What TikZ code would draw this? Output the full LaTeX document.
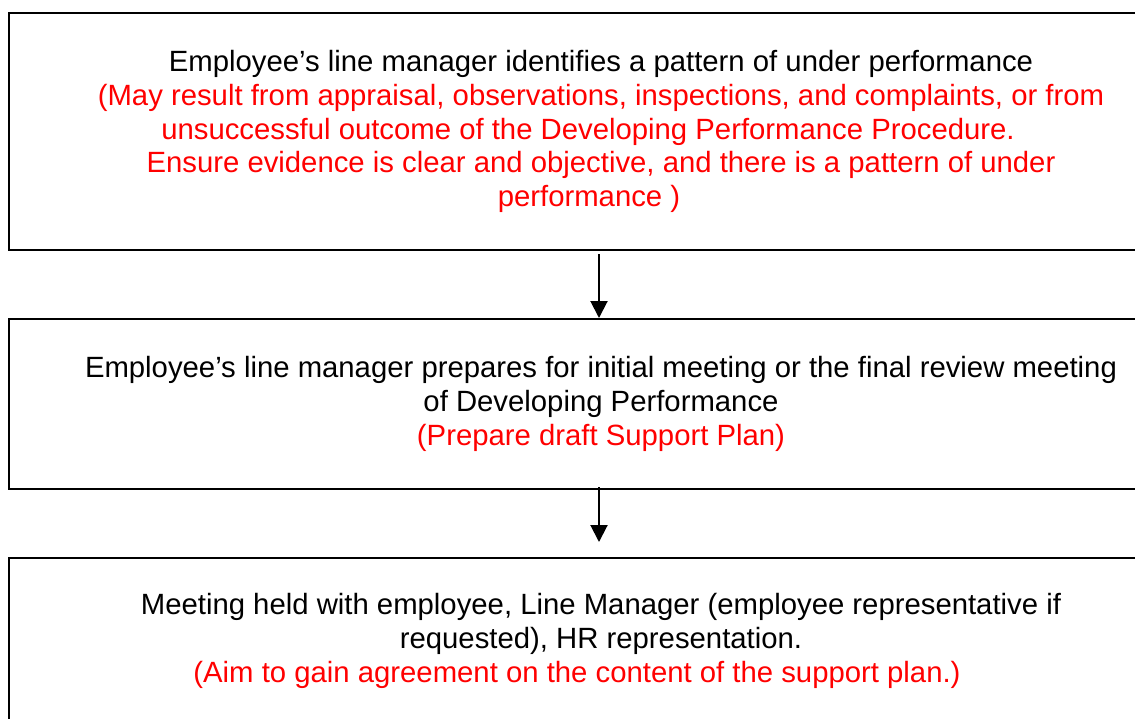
\documentclass[tikz,border=0pt]{standalone}
\usepackage{fontspec}
\setmainfont{Liberation Sans}
\usetikzlibrary{arrows.meta}
\definecolor{note}{RGB}{255,0,0}
\begin{document}
\begin{tikzpicture}[x=1pt,y=1pt,
  stagebox/.style={draw=black, line width=2pt, align=center, inner sep=0pt,
    minimum width=1184pt, font=\fontsize{29.3}{33.8}\selectfont},
  flow/.style={draw=black, line width=2pt, -{Triangle[length=17pt,width=17pt]}}]
\useasboundingbox (0,0) rectangle (1135,-718);
\clip (0,0) rectangle (1135,-718);
% stage 1
\node[stagebox, minimum height=237pt, anchor=north west] (b1) at (8,-12)
  {Employee’s line manager identifies a pattern of under performance\\
   \textcolor{note}{(May result from appraisal, observations, inspections, and complaints, or from}\\
   \textcolor{note}{unsuccessful outcome of the Developing Performance Procedure.\hspace*{26pt}}\\
   \textcolor{note}{Ensure evidence is clear and objective, and there is a pattern of under}\\
   \textcolor{note}{performance )\hspace*{24pt}}};
% stage 2
\node[stagebox, minimum height=170pt, anchor=north west] (b2) at (8,-318)
  {Employee’s line manager prepares for initial meeting or the final review meeting\\
   of Developing Performance\\
   \textcolor{note}{(Prepare draft Support Plan)}};
% stage 3
\node[stagebox, minimum height=166pt, anchor=north west] (b3) at (8,-557)
  {Meeting held with employee, Line Manager (employee representative if\\
   requested), HR representation.\\
   \textcolor{note}{(Aim to gain agreement on the content of the support plan.)\hspace*{48pt}}};
% connectors
\draw[flow] ([xshift=-2pt,yshift=-3pt]b1.south) -- ([xshift=-2pt]b2.north);
\draw[flow] ([xshift=-2pt,yshift=3pt]b2.south) -- ([xshift=-2pt,yshift=15pt]b3.north);
\end{tikzpicture}
\end{document}
